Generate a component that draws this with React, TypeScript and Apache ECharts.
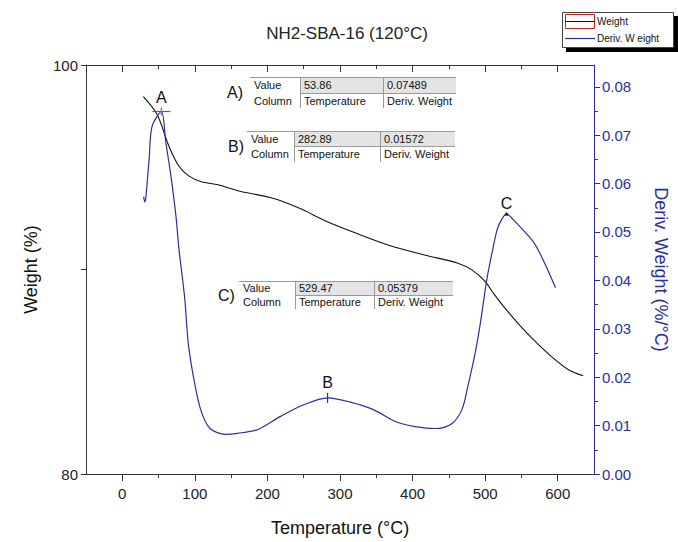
import React, { useEffect, useRef } from 'react';
import * as echarts from 'echarts';

// TGA weight curve (°C, %)
const weightTemps = [29, 48, 64.3, 77.9, 91.5, 109, 132, 159.4, 209.7, 245, 281.8, 322.6, 367.3, 417.7, 462.5, 481.6, 499.3, 512.8, 526.5, 546.8, 567.2, 594.4, 614.8, 635];
const weightValues = [98.45, 97.58, 96.03, 95.06, 94.58, 94.29, 94.14, 93.85, 93.46, 92.98, 92.35, 91.77, 91.19, 90.7, 90.31, 89.98, 89.44, 88.77, 88.15, 87.3, 86.55, 85.65, 85.1, 84.8];

// Derivative weight curve (°C, %/°C)
const derivTemps = [29.4, 31, 32.5, 37, 41, 53.86, 60, 67, 74, 78, 86, 89, 91.5, 98, 108, 121, 142, 159, 187, 218, 250, 282.89, 313, 346, 377, 404, 431, 454, 468, 476, 486, 492.5, 496.6, 502, 508.8, 516.9, 523.7, 529.47, 536, 564.6, 576.8, 597];
const derivValues = [0.0573, 0.0562, 0.0572, 0.0651, 0.0718, 0.07489, 0.0685, 0.0616, 0.0532, 0.0466, 0.0364, 0.0303, 0.0262, 0.0201, 0.0133, 0.0094, 0.0082, 0.0084, 0.0092, 0.0119, 0.0143, 0.01572, 0.0149, 0.0133, 0.0108, 0.0098, 0.0094, 0.0104, 0.0133, 0.018, 0.0248, 0.0303, 0.0344, 0.0399, 0.0452, 0.0507, 0.0528, 0.05379, 0.053, 0.0483, 0.0452, 0.0385];

// Picked peaks
const peakNames = ['A', 'B', 'C'];
const peakTemps = [53.86, 282.89, 529.47];
const peakDerivs = [0.07489, 0.01572, 0.05379];

// Axis ticks
const tempTicks = [0, 100, 200, 300, 400, 500, 600];
const tempMinorTicks = [50, 150, 250, 350, 450, 550];
const weightTicks = [80, 90, 100];
const weightLabels = [80, 100];
const derivTicks = [0, 0.01, 0.02, 0.03, 0.04, 0.05, 0.06, 0.07, 0.08];
const derivMinorTicks = [0.005, 0.015, 0.025, 0.035, 0.045, 0.055, 0.065, 0.075];

const FONT = "'Liberation Sans', Arial, sans-serif";
const TABLE_FONT = "11px 'Liberation Sans Narrow', 'Liberation Sans', Arial, sans-serif";
const BLUE = '#2b2f9e';

// Layout of the three readout boxes: [x0, col1, col2, x1, y0, yMid, y1, letterX]
const tableBoxes = [
  [250, 300, 383, 456, 77, 93, 108, 227],
  [247, 294, 380, 455, 131, 146, 162, 228],
  [239, 295, 374, 453, 281, 295, 309, 218],
];

function readoutTable(i: number) {
  const [x0, c1, c2, x1, y0, ym, y1, lx] = tableBoxes[i];
  const line = (xa: number, ya: number, xb: number, yb: number) => ({
    type: 'line',
    shape: { x1: xa, y1: ya, x2: xb, y2: yb },
    style: { stroke: '#9a9a9a', lineWidth: 1 },
  });
  const txt = (t: string, x: number, y: number) => ({
    type: 'text',
    x,
    y,
    style: { text: t, font: TABLE_FONT, fill: '#111', align: 'left', verticalAlign: 'middle', textAlign: 'left', textVerticalAlign: 'middle' },
  });
  const r1 = (y0 + ym) / 2;
  const r2 = (ym + y1) / 2;
  return {
    type: 'group',
    silent: true,
    children: [
      { type: 'rect', shape: { x: c1, y: y0, width: x1 - c1, height: ym - y0 }, style: { fill: '#e4e4e4' } },
      line(x0, y0 + 0.5, x1, y0 + 0.5),
      line(c1, ym + 0.5, x1, ym + 0.5),
      line(c1 + 0.5, y0, c1 + 0.5, y1),
      line(c2 + 0.5, y0, c2 + 0.5, y1),
      txt('Value', x0 + 4, r1),
      txt('Column', x0 + 4, r2),
      txt(peakTemps[i].toFixed(2), c1 + 4, r1),
      txt(peakDerivs[i].toFixed(5), c2 + 4, r1),
      txt('Temperature', c1 + 4, r2),
      txt('Deriv. Weight', c2 + 4, r2),
      {
        type: 'text',
        x: lx,
        y: (y0 + y1) / 2,
        style: { text: peakNames[i] + ')', font: `16px ${FONT}`, fill: '#111', align: 'left', verticalAlign: 'middle', textAlign: 'left', textVerticalAlign: 'middle' },
      },
    ],
  };
}

const legendGraphic = {
  type: 'group',
  silent: true,
  children: [
    { type: 'rect', shape: { x: 566, y: 16, width: 112, height: 36 }, style: { fill: '#000' } },
    { type: 'rect', shape: { x: 562.5, y: 12.5, width: 111, height: 35 }, style: { fill: '#fff', stroke: '#444', lineWidth: 1 } },
    { type: 'rect', shape: { x: 565.5, y: 14.5, width: 29, height: 14 }, style: { fill: 'none', stroke: '#c02020', lineWidth: 1 } },
    { type: 'line', shape: { x1: 565, y1: 21.5, x2: 595, y2: 21.5 }, style: { stroke: '#111', lineWidth: 1 } },
    { type: 'line', shape: { x1: 565, y1: 38.5, x2: 595, y2: 38.5 }, style: { stroke: BLUE, lineWidth: 1.2 } },
    { type: 'text', x: 597, y: 21, style: { text: 'Weight', font: `10px ${FONT}`, fill: '#111', verticalAlign: 'middle', textVerticalAlign: 'middle' } },
    { type: 'text', x: 597, y: 38, style: { text: 'Deriv. W eight', font: `10px ${FONT}`, fill: '#111', verticalAlign: 'middle', textVerticalAlign: 'middle' } },
  ],
};

function buildOption(): any {
  const weightData = weightTemps.map((t, i) => [t, weightValues[i]]);
  const derivData = derivTemps.map((t, i) => [t, derivValues[i]]);
  const labelOffsets = [-14, -15, -10];

  const peakMarks: any[] = [];
  peakNames.forEach((name, i) => {
    const coord = [peakTemps[i], peakDerivs[i]];
    const label = { show: true, formatter: name, position: 'inside', offset: [0, labelOffsets[i]] };
    if (i === 0) {
      peakMarks.push({ coord, symbol: 'rect', symbolSize: [18, 1.2], itemStyle: { color: '#d03030' }, label: { show: false } });
      peakMarks.push({ coord, symbol: 'rect', symbolSize: [1.2, 8], itemStyle: { color: '#3a8fc0' }, label });
    } else if (i === 1) {
      peakMarks.push({ coord, symbol: 'rect', symbolSize: [1.2, 10], itemStyle: { color: '#333' }, label });
    } else {
      peakMarks.push({ coord, symbol: 'triangle', symbolSize: 4, itemStyle: { color: '#222' }, label });
    }
  });

  const baseX = { type: 'value', min: -50, max: 650, splitLine: { show: false } };
  const derivRange = { type: 'value', min: 0, max: 0.0845, splitLine: { show: false } };

  return {
    animation: false,
    backgroundColor: '#fff',
    textStyle: { fontFamily: FONT },
    grid: { left: 86, right: 77, top: 65, bottom: 64 },
    graphic: [
      {
        type: 'text',
        x: 347,
        y: 33,
        style: { text: 'NH2-SBA-16 (120°C)', font: `17px ${FONT}`, fill: '#222', align: 'center', verticalAlign: 'middle', textAlign: 'center', textVerticalAlign: 'middle' },
      },
      legendGraphic,
      readoutTable(0),
      readoutTable(1),
      readoutTable(2),
    ],
    xAxis: [
      {
        ...baseX,
        position: 'bottom',
        axisLine: { show: true, onZero: false, lineStyle: { color: '#333', width: 1 } },
        axisTick: { show: true, customValues: tempTicks, length: 7, lineStyle: { color: '#333' } },
        axisLabel: { customValues: tempTicks, margin: 12, fontSize: 15, color: '#222', fontFamily: FONT },
        name: 'Temperature (°C)',
        nameLocation: 'middle',
        nameGap: 45,
        nameTextStyle: { fontSize: 18, color: '#111', fontFamily: FONT },
      },
      {
        ...baseX,
        position: 'bottom',
        axisLine: { show: false, onZero: false },
        axisTick: { show: true, customValues: tempMinorTicks, length: 4, lineStyle: { color: '#333' } },
        axisLabel: { show: false },
      },
      {
        ...baseX,
        position: 'top',
        axisLine: { show: true, onZero: false, lineStyle: { color: '#333', width: 1 } },
        axisTick: { show: true, inside: true, customValues: tempTicks, length: 7, lineStyle: { color: '#333' } },
        axisLabel: { show: false },
      },
      {
        ...baseX,
        position: 'top',
        axisLine: { show: false, onZero: false },
        axisTick: { show: true, inside: true, customValues: tempMinorTicks, length: 4, lineStyle: { color: '#333' } },
        axisLabel: { show: false },
      },
    ],
    yAxis: [
      {
        type: 'value',
        position: 'left',
        min: 80,
        max: 100,
        splitLine: { show: false },
        axisLine: { show: true, onZero: false, lineStyle: { color: '#333', width: 1 } },
        axisTick: { show: true, customValues: weightTicks, length: 5, lineStyle: { color: '#333' } },
        axisLabel: { customValues: weightLabels, margin: 8, fontSize: 15, color: '#222', fontFamily: FONT },
        name: 'Weight (%)',
        nameLocation: 'middle',
        nameGap: 46,
        nameRotate: 90,
        nameTextStyle: { fontSize: 18, color: '#111', fontFamily: FONT },
      },
      {
        ...derivRange,
        position: 'right',
        axisLine: { show: true, onZero: false, lineStyle: { color: BLUE, width: 1 } },
        axisTick: { show: true, customValues: derivTicks, length: 6, lineStyle: { color: BLUE } },
        axisLabel: {
          customValues: derivTicks,
          margin: 8,
          fontSize: 15,
          color: BLUE,
          fontFamily: FONT,
          formatter: (v: number) => v.toFixed(2),
        },
        name: 'Deriv. Weight (%/°C)',
        nameLocation: 'middle',
        nameGap: 58,
        nameRotate: -90,
        nameTextStyle: { fontSize: 18, color: BLUE, fontFamily: FONT },
      },
      {
        ...derivRange,
        position: 'right',
        axisLine: { show: false, onZero: false },
        axisTick: { show: true, customValues: derivMinorTicks, length: 4, lineStyle: { color: BLUE } },
        axisLabel: { show: false },
      },
    ],
    series: [
      {
        name: 'Weight',
        type: 'line',
        xAxisIndex: 0,
        yAxisIndex: 0,
        data: weightData,
        showSymbol: false,
        symbol: 'none',
        smooth: 0.3,
        lineStyle: { color: '#111', width: 1.1 },
        silent: true,
      },
      {
        name: 'Deriv. Weight',
        type: 'line',
        xAxisIndex: 0,
        yAxisIndex: 1,
        data: derivData,
        showSymbol: false,
        symbol: 'none',
        smooth: 0.3,
        lineStyle: { color: BLUE, width: 1.2 },
        silent: true,
        markPoint: {
          silent: true,
          label: { color: '#111', fontSize: 16, fontFamily: FONT },
          data: peakMarks,
        },
      },
    ],
  };
}

export default function App() {
  const ref = useRef<HTMLDivElement>(null);
  useEffect(() => {
    if (!ref.current) return;
    const chart = echarts.init(ref.current, undefined, { renderer: 'svg' });
    chart.setOption(buildOption());
    return () => chart.dispose();
  }, []);
  return (
    <div
      ref={ref}
      style={{ position: 'fixed', left: 0, top: 0, width: 678, height: 542, background: '#fff' }}
    />
  );
}
